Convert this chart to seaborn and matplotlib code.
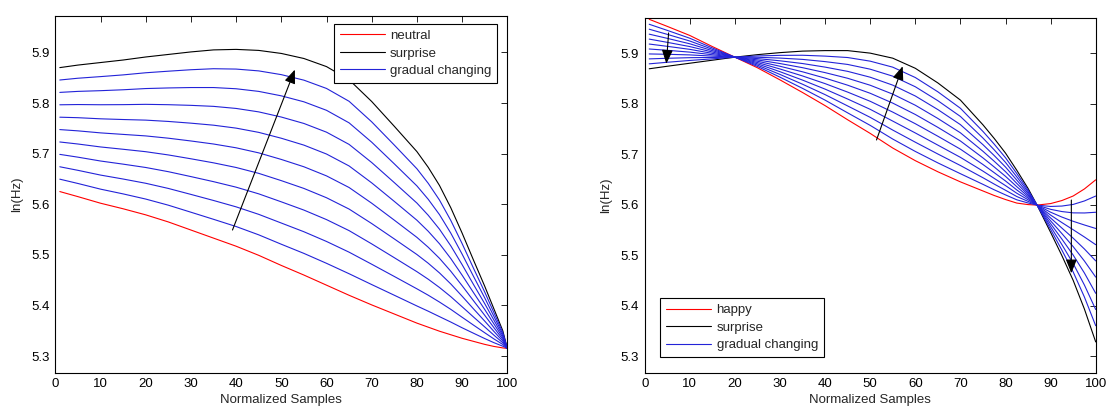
import matplotlib
matplotlib.use("Agg")
import matplotlib.pyplot as plt
import pandas as pd
import seaborn as sns

# ---- pitch contours (log F0) over normalized sample position ----
x_left = [1, 5, 10, 15, 20, 25, 30, 35, 40, 45, 50, 55, 60, 65, 70, 75, 80,
          82.5, 85, 87.5, 90, 92.5, 95, 97, 99, 100]
neutral_f0 = [5.625, 5.615, 5.602, 5.591, 5.579, 5.565, 5.549, 5.533, 5.517,
              5.499, 5.479, 5.460, 5.440, 5.420, 5.401, 5.383, 5.365, 5.357,
              5.349, 5.342, 5.335, 5.329, 5.323, 5.319, 5.316, 5.315]
surprise_f0_left = [5.870, 5.875, 5.880, 5.885, 5.891, 5.896, 5.901, 5.905,
                    5.906, 5.904, 5.898, 5.888, 5.872, 5.846, 5.803, 5.754,
                    5.704, 5.673, 5.637, 5.593, 5.543, 5.490, 5.438, 5.394,
                    5.350, 5.315]

x_right = [1, 5, 10, 15, 20, 25, 30, 35, 40, 45, 50, 55, 60, 65, 70, 75, 77.5,
           80, 82.5, 85, 87, 90, 92.5, 95, 97.5, 100]
happy_f0 = [5.967, 5.953, 5.935, 5.913, 5.892, 5.871, 5.847, 5.822, 5.796,
            5.768, 5.741, 5.712, 5.687, 5.665, 5.645, 5.627, 5.618, 5.610,
            5.603, 5.600, 5.599, 5.602, 5.608, 5.617, 5.631, 5.649]
surprise_f0_right = [5.869, 5.874, 5.880, 5.886, 5.892, 5.897, 5.901, 5.904,
                     5.905, 5.905, 5.900, 5.890, 5.870, 5.841, 5.807, 5.758,
                     5.731, 5.702, 5.668, 5.632, 5.599, 5.545, 5.499, 5.450,
                     5.393, 5.328]

# weights of the intermediate contours (0 = source emotion, 1 = surprise)
morph_steps = [0.1, 0.2, 0.3, 0.4, 0.5, 0.6, 0.7, 0.8, 0.9]

x_ticks = [0, 10, 20, 30, 40, 50, 60, 70, 80, 90, 100]
y_ticks = [5.3, 5.4, 5.5, 5.6, 5.7, 5.8, 5.9]

# direction arrows: (tail, head) in data coordinates
arrows_left = [((39.2, 5.549), (53.0, 5.866))]
arrows_right = [((5.3, 5.940), (4.8, 5.879)),
                ((51.4, 5.728), (57.2, 5.874)),
                ((94.6, 5.609), (94.6, 5.464))]

RED, BLACK, BLUE = "#ff0000", "#000000", "#2323d8"


def contour_table(x, src, tgt, src_name):
    rows = []
    for xi, yi in zip(x, src):
        rows.append((xi, yi, src_name, src_name))
    for xi, yi in zip(x, tgt):
        rows.append((xi, yi, "surprise", "surprise"))
    for w in morph_steps:
        for xi, a, b in zip(x, src, tgt):
            rows.append((xi, (1 - w) * a + w * b, "gradual changing", f"mix{w:.1f}"))
    return pd.DataFrame(rows, columns=["x", "y", "kind", "curve"])


sns.set_theme(style="white")
plt.rcParams["font.family"] = ["Liberation Sans", "DejaVu Sans"]
plt.rcParams["axes.edgecolor"] = "black"
plt.rcParams["axes.linewidth"] = 0.8

fig = plt.figure(figsize=(11.07, 4.09), dpi=100)
W, H = 1107, 409
ax_l = fig.add_axes([55.3 / W, 1 - 372.7 / H, 452 / W, (372.7 - 16) / H])
ax_r = fig.add_axes([644.7 / W, 1 - 372.7 / H, 451 / W, (372.7 - 18.3) / H])

panels = [
    (ax_l, contour_table(x_left, neutral_f0, surprise_f0_left, "neutral"),
     "neutral", (5.267, 5.972), arrows_left,
     dict(loc="upper right", bbox_to_anchor=(0.978, 0.978))),
    (ax_r, contour_table(x_right, happy_f0, surprise_f0_right, "happy"),
     "happy", (5.267, 5.969), arrows_right,
     dict(loc="lower left", bbox_to_anchor=(0.035, 0.0435))),
]

for ax, df, src_name, ylim, arrows, leg_pos in panels:
    order = [src_name, "surprise", "gradual changing"]
    sns.lineplot(data=df, x="x", y="y", hue="kind", hue_order=order,
                 units="curve", estimator=None, sort=False,
                 palette={src_name: RED, "surprise": BLACK,
                          "gradual changing": BLUE},
                 linewidth=0.8, ax=ax)
    ax.set_xlim(0, 100)
    ax.set_ylim(*ylim)
    ax.set_xticks(x_ticks)
    ax.set_yticks(y_ticks)
    ax.set_yticklabels([f"{v:.1f}" for v in y_ticks])
    ax.tick_params(direction="in", top=True, right=True, length=4.5,
                   width=0.6, labelsize=9.5, pad=4, colors="black")
    ax.set_xlabel("Normalized Samples", fontsize=9.5, labelpad=3)
    ax.set_ylabel("ln(Hz)", fontsize=9.5, labelpad=6)
    for sp in ax.spines.values():
        sp.set_visible(True)
        sp.set_color("black")
        sp.set_linewidth(0.8)

    for tail, head in arrows:
        ax.annotate("", xy=head, xytext=tail,
                    arrowprops=dict(arrowstyle="-|>,head_length=0.7,head_width=0.28",
                                    color="black", lw=0.8,
                                    shrinkA=0, shrinkB=0))

    handles, labels = ax.get_legend_handles_labels()
    leg = ax.legend(handles, labels, borderaxespad=0, frameon=True,
                    fancybox=False, framealpha=1, edgecolor="black",
                    handlelength=3.4, handletextpad=0.4, borderpad=0.45,
                    labelspacing=0.4, fontsize=9.5, **leg_pos)
    leg.get_frame().set_linewidth(0.8)
    for h in leg.get_lines():
        h.set_linewidth(0.8)

fig.savefig("out.png", dpi=100, facecolor="white")
